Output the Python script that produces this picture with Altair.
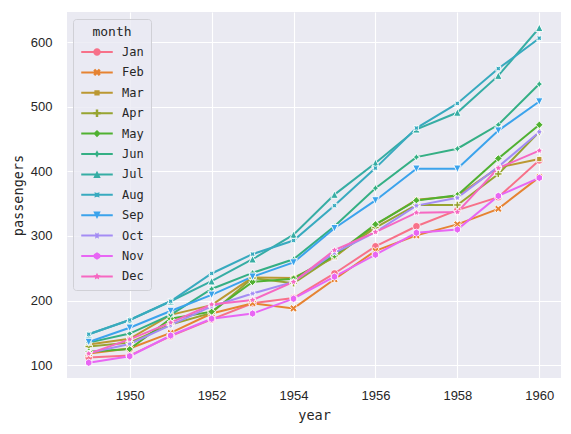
import math
import altair as alt
import pandas as pd

# ---------------- data (seaborn "flights") ----------------
years = list(range(1949, 1961))
months = ["Jan", "Feb", "Mar", "Apr", "May", "Jun",
          "Jul", "Aug", "Sep", "Oct", "Nov", "Dec"]
jan = [112, 115, 145, 171, 196, 204, 242, 284, 315, 340, 360, 417]
feb = [118, 126, 150, 180, 196, 188, 233, 277, 301, 318, 342, 391]
mar = [132, 141, 178, 193, 236, 235, 267, 317, 356, 362, 406, 419]
apr = [129, 135, 163, 181, 235, 227, 269, 313, 348, 348, 396, 461]
may = [121, 125, 172, 183, 229, 234, 270, 318, 355, 363, 420, 472]
jun = [135, 149, 178, 218, 243, 264, 315, 374, 422, 435, 472, 535]
jul = [148, 170, 199, 230, 264, 302, 364, 413, 465, 491, 548, 622]
aug = [148, 170, 199, 242, 272, 293, 347, 405, 467, 505, 559, 606]
sep = [136, 158, 184, 209, 237, 259, 312, 355, 404, 404, 463, 508]
oct_ = [119, 133, 162, 191, 211, 229, 274, 306, 347, 359, 407, 461]
nov = [104, 114, 146, 172, 180, 203, 237, 271, 305, 310, 362, 390]
dec = [118, 140, 166, 194, 201, 229, 278, 306, 336, 337, 405, 432]
series = [jan, feb, mar, apr, may, jun, jul, aug, sep, oct_, nov, dec]

rows = []
for m, vals in zip(months, series):
    for y, v in zip(years, vals):
        rows.append({"year": y, "month": m, "passengers": v})
df = pd.DataFrame(rows)


# ---------------- seaborn husl palette ----------------
def husl_hex(h, s, l):
    mm = [[3.2406, -1.5372, -0.4986], [-0.9689, 1.8758, 0.0415], [0.0557, -0.2040, 1.0570]]
    refU, refV = 0.19784, 0.46834
    hrad = math.radians(h)
    sinH, cosH = math.sin(hrad), math.cos(hrad)
    sub1 = ((l + 16) ** 3) / 1560896.0
    sub2 = sub1 if sub1 > 0.008856 else l / 903.3
    best = float("inf")
    for m1, m2, m3 in mm:
        top = (0.99915 * m1 + 1.05122 * m2 + 1.14460 * m3) * sub2
        rb = 0.86330 * m3 - 0.17266 * m2
        lb = 0.12949 * m3 - 0.38848 * m1
        bottom = (rb * sinH + lb * cosH) * sub2
        for t in (0.0, 1.0):
            C = l * (top - 1.05122 * t) / (bottom + 0.17266 * sinH * t)
            if 0 < C < best:
                best = C
    c = best / 100 * s
    U, V = math.cos(hrad) * c, math.sin(hrad) * c
    t = (l + 16) / 116
    Y = t ** 3 if t ** 3 > 0.008856 else (116 * t - 16) / 903.3
    vu = U / (13 * l) + refU
    vv = V / (13 * l) + refV
    X = 0 - (9 * Y * vu) / ((vu - 4) * vv - vu * vv)
    Z = (9 * Y - 15 * vv * Y - vv * X) / (3 * vv)
    out = []
    for r in mm:
        v = r[0] * X + r[1] * Y + r[2] * Z
        v = 12.92 * v if v <= 0.0031308 else 1.055 * v ** (1 / 2.4) - 0.055
        out.append(min(max(v, 0.0), 1.0))
    return "#%02x%02x%02x" % tuple(int(round(v * 255)) for v in out)


n = len(months)
palette = [husl_hex(((i / n + 0.01) % 1) * 359, 0.9 * 99, 0.65 * 99) for i in range(n)]


# ---------------- matplotlib-like marker paths ----------------
def orient(pts):
    a = sum(pts[i][0] * pts[(i + 1) % len(pts)][1] - pts[(i + 1) % len(pts)][0] * pts[i][1]
            for i in range(len(pts)))
    return pts if a > 0 else pts[::-1]


def rot(pts, deg):
    r = math.radians(deg)
    return [(x * math.cos(r) - y * math.sin(r), x * math.sin(r) + y * math.cos(r)) for x, y in pts]


def polygon(nv, deg=0):
    pts = [(math.cos(2 * math.pi / nv * k + math.pi / 2), math.sin(2 * math.pi / nv * k + math.pi / 2))
           for k in range(nv)]
    return rot(pts, deg)


def star(nv, deg=0, inner=0.5):
    pts = []
    for k in range(2 * nv):
        r = 1.0 if k % 2 == 0 else inner
        th = math.pi / nv * k + math.pi / 2
        pts.append((r * math.cos(th), r * math.sin(th)))
    return rot(pts, deg)


circle_pts = [(math.cos(2 * math.pi * k / 48), math.sin(2 * math.pi * k / 48)) for k in range(48)]
x_pts = [(p[0] / 2, p[1] / 2) for p in [(-1, -2), (0, -1), (1, -2), (2, -1), (1, 0), (2, 1),
                                          (1, 2), (0, 1), (-1, 2), (-2, 1), (-1, 0), (-2, -1)]]
plus_pts = [(p[0] / 3, p[1] / 3) for p in [(-1, -3), (1, -3), (1, -1), (3, -1), (3, 1), (1, 1),
                                            (1, 3), (-1, 3), (-1, 1), (-3, 1), (-3, -1), (-1, -1)]]
tri_up = [(0, 1), (-1, -1), (1, -1)]
tri_dn = [(0, -1), (-1, 1), (1, 1)]

marker_polys = [
    circle_pts,          # o
    x_pts,               # X
    polygon(4, 45),      # square
    plus_pts,            # P
    polygon(4, 0),       # diamond
    star(4, 0),          # 4-star
    tri_up,              # ^
    star(4, 45),         # rotated 4-star
    tri_dn,              # v
    star(6, 30),         # 6-star
    polygon(6, 0),       # hexagon
    star(5, 0),          # 5-star
]


def to_path(pts):
    svg = [(x, -y) for x, y in pts]   # flip y for screen coordinates
    svg = orient(svg)
    return "M" + "L".join("%.3f,%.3f" % p for p in svg) + "Z"


plot_shapes = [to_path(p) for p in marker_polys]
half_len, half_w = 4.25, 0.27
legend_line = "M%.2f,%.2fL%.2f,%.2fL%.2f,%.2fL%.2f,%.2fZ" % (
    -half_len, -half_w, half_len, -half_w, half_len, half_w, -half_len, half_w)
legend_shapes = [legend_line + s for s in plot_shapes]

# ---------------- chart ----------------
font_lbl = "DejaVu Sans Mono"
txt = "#262626"
x_enc = alt.X("year:Q", scale=alt.Scale(domain=[1948.47, 1960.53], nice=False, zero=False),
              axis=alt.Axis(values=[1950, 1952, 1954, 1956, 1958, 1960], format="d",
                            title="year", titlePadding=6))
y_enc = alt.Y("passengers:Q", scale=alt.Scale(domain=[80.3, 646.5], nice=False, zero=False),
              axis=alt.Axis(values=[100, 200, 300, 400, 500, 600], title="passengers",
                            titlePadding=5))

base = alt.Chart(df)
lines = base.mark_line(strokeWidth=2).encode(
    x=x_enc, y=y_enc,
    color=alt.Color("month:N", scale=alt.Scale(domain=months, range=palette), legend=None),
    detail="month:N",
    order="year:Q",
)
points = base.mark_point(filled=True, opacity=1, size=55, stroke="white", strokeWidth=0.9).encode(
    x=x_enc, y=y_enc,
    color=alt.Color("month:N", scale=alt.Scale(domain=months, range=palette), legend=None),
    shape=alt.Shape("month:N", scale=alt.Scale(domain=months, range=plot_shapes), legend=None),
)
legend_kw = dict(
    title="month", orient="none", legendX=6, legendY=7, padding=7,
    fillColor="rgba(234,234,242,0.8)", strokeColor="#d0d0d6", cornerRadius=3,
    symbolSize=55, symbolStrokeWidth=0, symbolOffset=11, labelOffset=19,
    labelFont=font_lbl, labelFontSize=12, labelColor=txt,
    titleFont=font_lbl, titleFontSize=13, titleFontWeight="normal", titleColor=txt,
    titleAnchor="middle", titlePadding=7, rowPadding=8.4,
)
leg = base.transform_calculate(leg="datum.month").transform_filter("false").mark_point(
    filled=True, opacity=1, size=55).encode(
    x=x_enc, y=y_enc,
    color=alt.Color("leg:N", scale=alt.Scale(domain=months, range=palette),
                    legend=alt.Legend(**legend_kw)),
    shape=alt.Shape("leg:N", scale=alt.Scale(domain=months, range=legend_shapes),
                    legend=alt.Legend(**legend_kw)),
)

chart = alt.layer(lines, points, leg).resolve_scale(
    color="independent", shape="independent"
).properties(
    width=494, height=366,
    autosize=alt.AutoSizeParams(type="none"),
    padding={"left": 59, "top": 4, "right": 2, "bottom": 46},
    background="white",
).configure_view(
    fill="#eaeaf2", stroke=None
).configure_axis(
    domain=False, ticks=False, grid=True, gridColor="white", gridWidth=1.1,
    labelFont="Liberation Sans", labelFontSize=13, labelColor=txt,
    titleFont=font_lbl, titleFontSize=13.5, titleFontWeight="normal", titleColor=txt,
).configure_axisX(labelPadding=11).configure_axisY(labelPadding=15)

chart.save("out.html", embed_options={"renderer": "svg", "actions": False})
